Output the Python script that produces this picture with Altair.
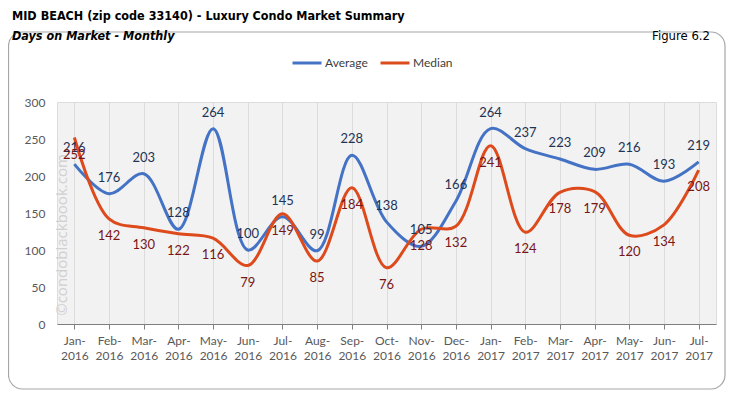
import altair as alt
import pandas as pd

months = ["Jan-2016", "Feb-2016", "Mar-2016", "Apr-2016", "May-2016", "Jun-2016",
          "Jul-2016", "Aug-2016", "Sep-2016", "Oct-2016", "Nov-2016", "Dec-2016",
          "Jan-2017", "Feb-2017", "Mar-2017", "Apr-2017", "May-2017", "Jun-2017",
          "Jul-2017"]
average = [216, 176, 203, 128, 264, 100, 145, 99, 228, 138, 105, 166,
           264, 237, 223, 209, 216, 193, 219]
median = [252, 142, 130, 122, 116, 79, 149, 85, 184, 76, 128, 132,
          241, 124, 178, 179, 120, 134, 208]
y_ticks = [0, 50, 100, 150, 200, 250, 300]
series_names = ["Average", "Median"]
series_colors = ["#4472C4", "#DD4A1C"]

df = pd.DataFrame({
    "month": months * 2,
    "series": ["Average"] * len(months) + ["Median"] * len(months),
    "value": average + median,
})

W, H = 659, 222
LABEL_FONT = "Lato"
TITLE_FONT = "DejaVu Sans Condensed, Roboto, Liberation Sans"

x = alt.X("month:N", sort=months, title=None,
          scale=alt.Scale(paddingInner=0, paddingOuter=0),
          axis=alt.Axis(labelExpr="[slice(datum.label, 0, 4), slice(datum.label, 4)]",
                        labelAngle=0, bandPosition=0, grid=True, gridColor="#dcdcdc",
                        domainColor="#7f7f7f", tickColor="#7f7f7f", tickSize=5,
                        labelColor="#595959", labelFontSize=12, labelFont=LABEL_FONT,
                        labelPadding=6, labelLineHeight=15, labelBound=False))
y = alt.Y("value:Q", title=None,
          scale=alt.Scale(domain=[0, 300]),
          axis=alt.Axis(values=y_ticks, tickCount=7, labelOverlap=False, grid=False,
                        domain=False, ticks=False, labelColor="#595959",
                        labelFontSize=12, labelFont=LABEL_FONT, labelPadding=12))
color = alt.Color("series:N", scale=alt.Scale(domain=series_names, range=series_colors),
                  legend=alt.Legend(title=None, orient="none", legendX=234, legendY=-55,
                                    direction="horizontal", symbolType="stroke",
                                    symbolSize=840, symbolStrokeWidth=3,
                                    labelFontSize=12, labelFont=LABEL_FONT,
                                    labelColor="#404040", columnPadding=6,
                                    labelOffset=2))

one = pd.DataFrame({"k": [0]})

border = alt.Chart(one).mark_rect(fill=None, fillOpacity=0, stroke="#a6a6a6", strokeWidth=1.2,
                                  cornerRadius=14, clip=False).encode(
    x=alt.value(-48.5), x2=alt.value(668), y=alt.value(-70), y2=alt.value(287))

lines = alt.Chart(df).mark_line(interpolate="catmull-rom", strokeWidth=3).encode(
    x=x, y=y, color=color)

avg_labels = alt.Chart(df).transform_filter(alt.datum.series == "Average").mark_text(
    dy=-16, fontSize=13, font=LABEL_FONT, color="#1F3355", baseline="middle").encode(
    x=alt.X("month:N", sort=months), y="value:Q", text="value:Q")

med_labels = alt.Chart(df).transform_filter(alt.datum.series == "Median").mark_text(
    dy=17, fontSize=13, font=LABEL_FONT, color="#7A1515", baseline="middle").encode(
    x=alt.X("month:N", sort=months), y="value:Q", text="value:Q")

title = alt.Chart(one).mark_text(text="MID BEACH (zip code 33140) - Luxury Condo Market Summary",
                                 font=TITLE_FONT, fontSize=12.5, fontWeight="bold",
                                 color="#000000", align="left", baseline="alphabetic").encode(
    x=alt.value(-45), y=alt.value(-82))
subtitle = alt.Chart(one).mark_text(text="Days on Market - Monthly",
                                    font=TITLE_FONT, fontSize=12.5, fontWeight="bold",
                                    fontStyle="italic", color="#000000", align="left",
                                    baseline="alphabetic").encode(
    x=alt.value(-45), y=alt.value(-62))
figure = alt.Chart(one).mark_text(text="Figure 6.2", font=TITLE_FONT, fontSize=13,
                                  color="#000000", align="right",
                                  baseline="alphabetic").encode(
    x=alt.value(653), y=alt.value(-62))
watermark = alt.Chart(one).mark_text(text="\u00a9condoblackbook.com", font="Open Sans",
                                     fontSize=15, angle=270, color="#d0d0d0",
                                     align="center", baseline="middle").encode(
    x=alt.value(5), y=alt.value(133))

chart = alt.layer(border, watermark, lines, avg_labels, med_labels, title, subtitle, figure).properties(
    width=W, height=H,
    autosize=alt.AutoSizeParams(type="none"),
    padding={"left": 49, "top": 94, "right": 10, "bottom": 66},
    background="white",
).configure_view(fill="#f2f2f2", stroke="#dcdcdc")

chart.save("out.html", embed_options={"renderer": "svg", "actions": False})
